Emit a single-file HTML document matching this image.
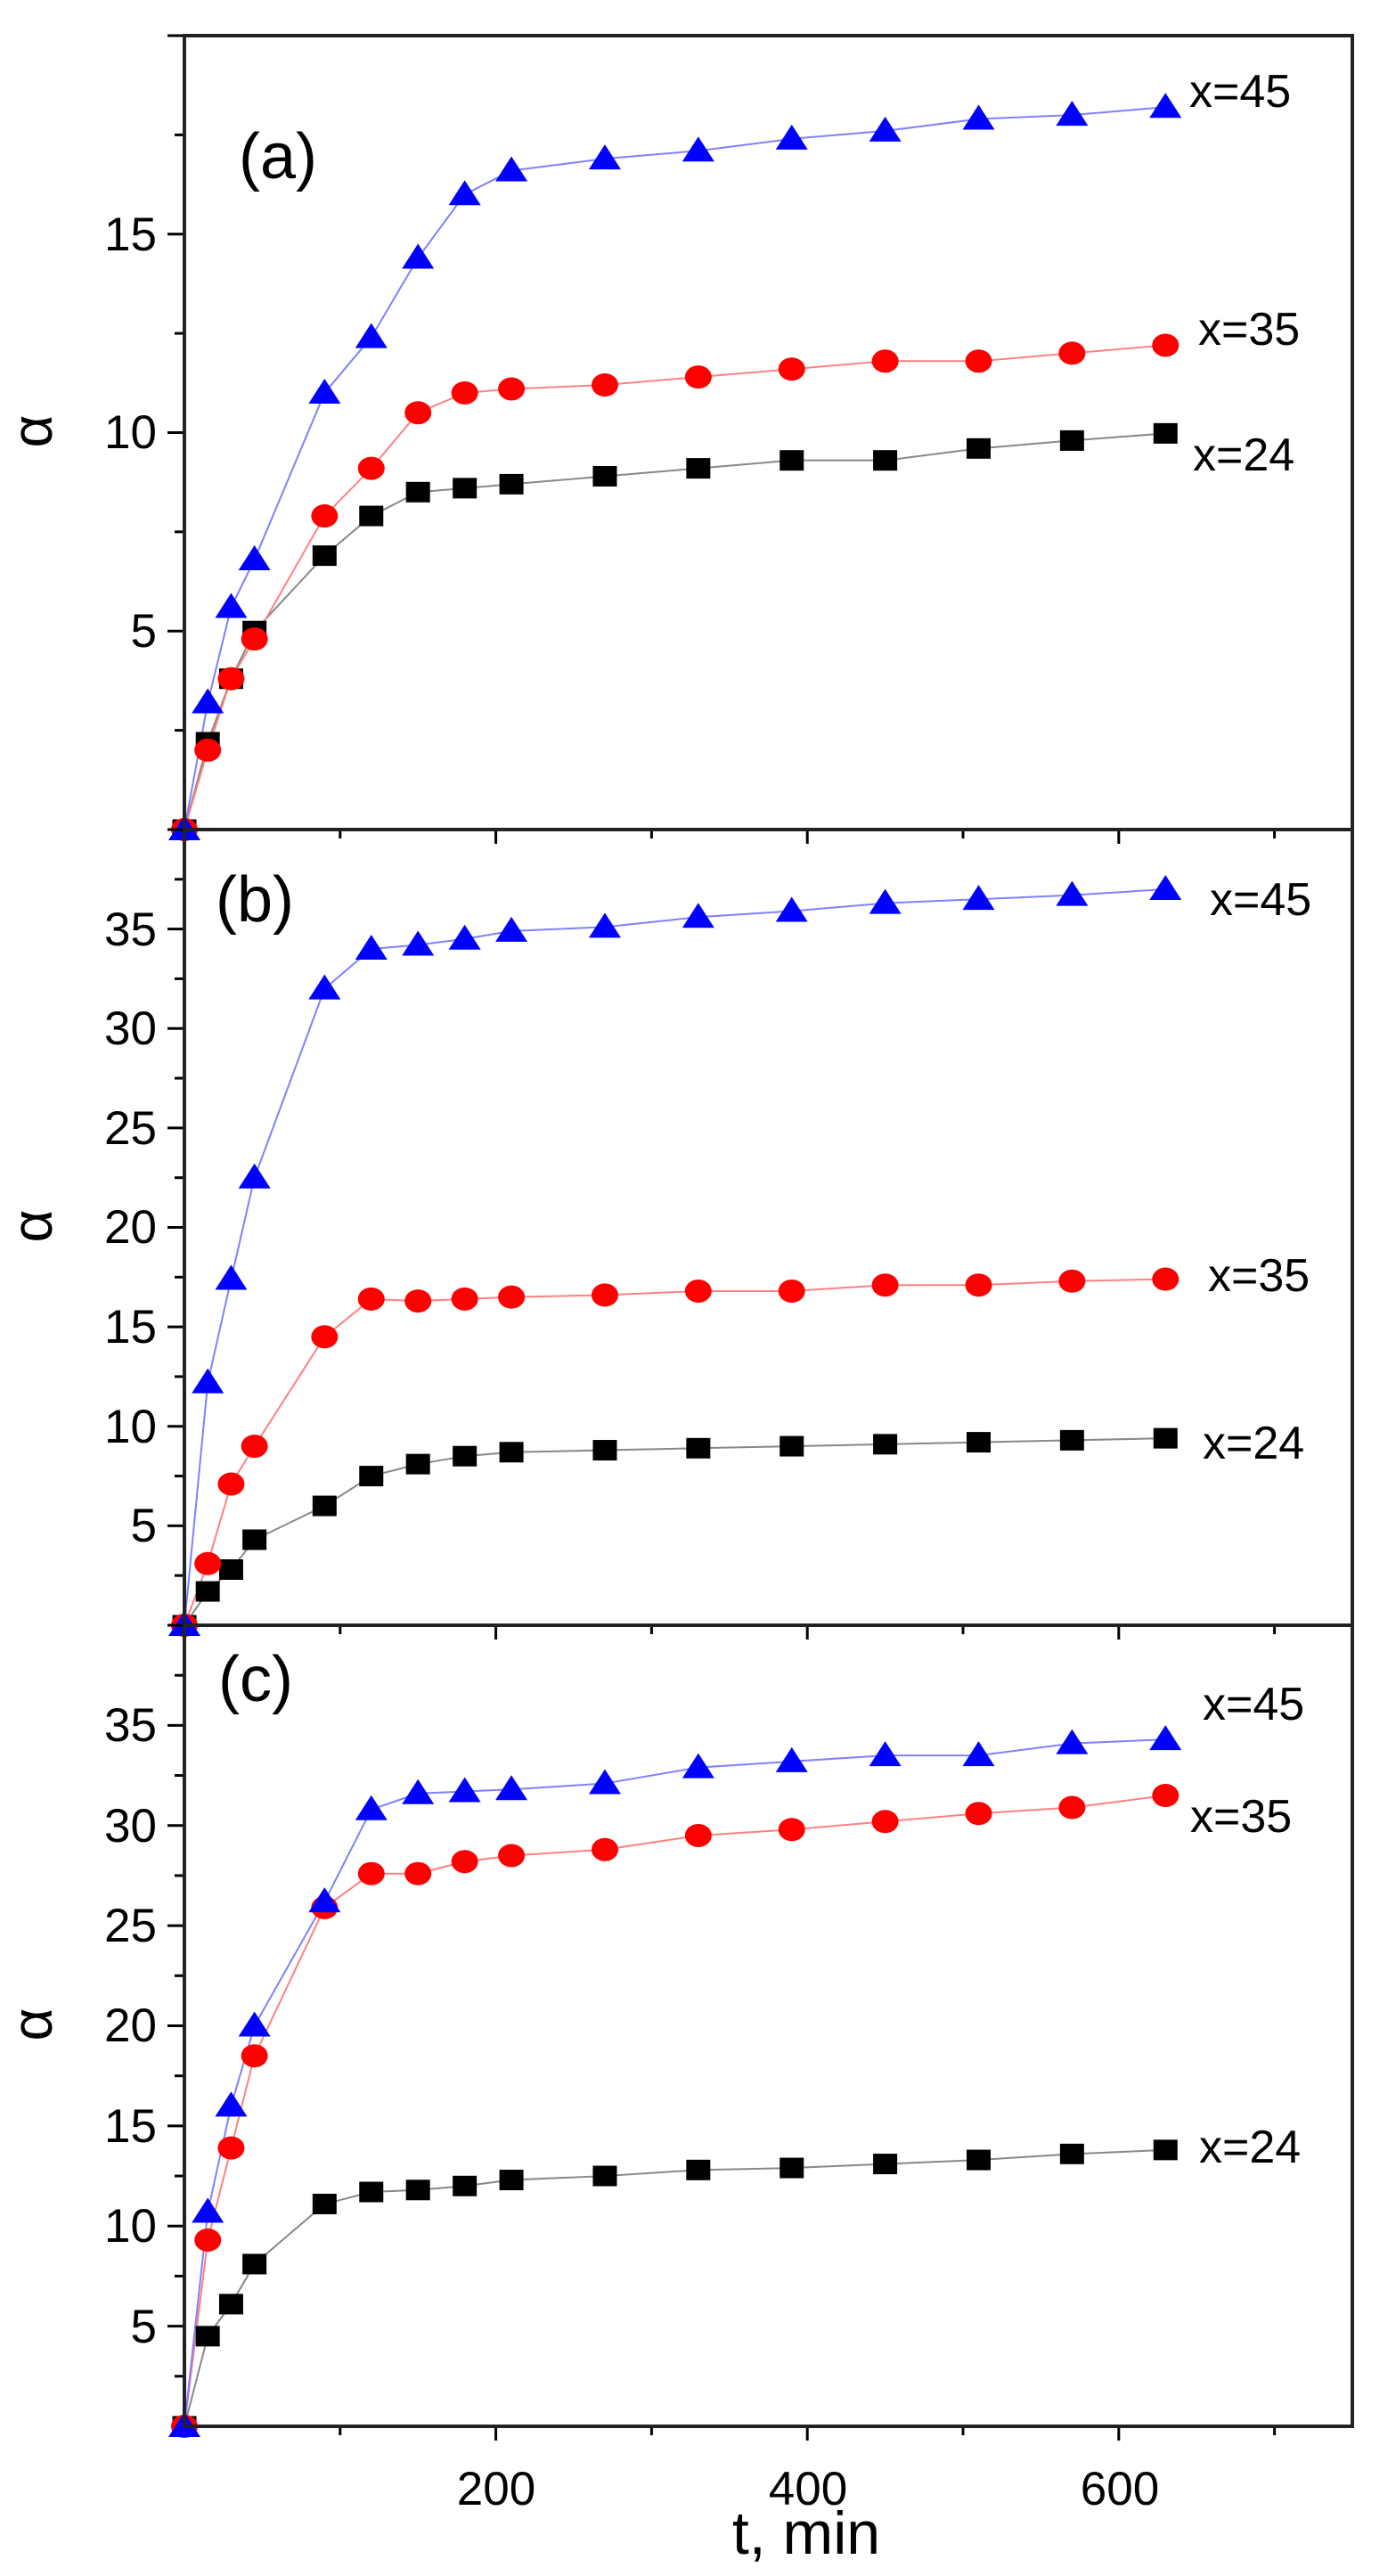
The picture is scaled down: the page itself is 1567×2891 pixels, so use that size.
<!DOCTYPE html>
<html><head><meta charset="utf-8"><style>
html,body{margin:0;padding:0;background:#fff;}
svg{display:block;}
text{font-family:"Liberation Sans",Arial,sans-serif;fill:#000;}
</style></head><body>
<svg id="s" width="1567" height="2891" viewBox="0 0 1567 2891" xmlns="http://www.w3.org/2000/svg">
<g id="g"></g>
<g font-size="53" text-anchor="end">
<text x="176" y="281">15</text><text x="176" y="503">10</text><text x="176" y="726">5</text>
<text x="176" y="1061">35</text><text x="176" y="1172">30</text><text x="176" y="1284">25</text><text x="176" y="1395">20</text><text x="176" y="1507">15</text><text x="176" y="1619">10</text><text x="176" y="1730">5</text>
<text x="176" y="1954">35</text><text x="176" y="2067">30</text><text x="176" y="2179">25</text><text x="176" y="2291">20</text><text x="176" y="2404">15</text><text x="176" y="2516">10</text><text x="176" y="2629">5</text>
</g>
<g font-size="53" text-anchor="middle">
<text x="557" y="2811">200</text><text x="907" y="2811">400</text><text x="1257" y="2811">600</text>
</g>
<text x="905" y="2866" font-size="68" text-anchor="middle">t, min</text>
<g font-size="64" text-anchor="middle">
<text transform="translate(58,484) rotate(-90)">α</text>
<text transform="translate(58,1376) rotate(-90)">α</text>
<text transform="translate(58,2272) rotate(-90)">α</text>
</g>
<g font-size="72">
<text x="268" y="200">(a)</text>
<text x="242" y="1034">(b)</text>
<text x="245" y="1909">(c)</text>
</g>
<g font-size="52">
<text x="1335" y="120">x=45</text><text x="1345" y="387">x=35</text><text x="1339" y="528">x=24</text>
<text x="1358" y="1027">x=45</text><text x="1356" y="1449">x=35</text><text x="1350" y="1637">x=24</text>
<text x="1350" y="1930">x=45</text><text x="1336" y="2056">x=35</text><text x="1346" y="2427">x=24</text>
</g>
</svg>
<script>
var NS="http://www.w3.org/2000/svg",g=document.getElementById("g");
function el(n,a){var e=document.createElementNS(NS,n);for(var k in a)e.setAttribute(k,a[k]);g.appendChild(e);return e;}
var X0=207,XR=1518,XS=(XR-X0)/750;
var ts=[0,15,30,45,90,120,150,180,210,270,330,390,450,510,570,630];
var P=[
 {t:40,b:931,m:20,d:[
  [0,2.2,3.8,5.0,6.9,7.9,8.5,8.6,8.7,8.9,9.1,9.3,9.3,9.6,9.8,9.98],
  [0,2.0,3.8,4.8,7.9,9.1,10.5,11.0,11.1,11.2,11.4,11.6,11.8,11.8,12.0,12.2],
  [0,3.2,5.6,6.8,11.0,12.4,14.4,16.0,16.6,16.9,17.1,17.4,17.6,17.9,18.0,18.2]]},
 {t:931,b:1824,m:40,d:[
  [0,1.7,2.8,4.3,6.0,7.5,8.1,8.5,8.7,8.8,8.9,9.0,9.1,9.2,9.3,9.4],
  [0,3.1,7.1,9.0,14.5,16.4,16.3,16.4,16.5,16.6,16.8,16.8,17.1,17.1,17.3,17.4],
  [0,12.2,17.4,22.5,32,34,34.2,34.5,34.9,35.1,35.6,35.9,36.3,36.5,36.7,37]]},
 {t:1824,b:2723,m:40,d:[
  [0,4.5,6.1,8.1,11.1,11.7,11.8,12.0,12.3,12.5,12.8,12.9,13.1,13.3,13.6,13.8],
  [0,9.3,13.9,18.5,25.9,27.6,27.6,28.2,28.5,28.8,29.5,29.8,30.2,30.6,30.9,31.5],
  [0,10.7,16.0,20.0,26.2,30.8,31.6,31.7,31.8,32.1,32.9,33.2,33.5,33.5,34.1,34.3]]}];
var lc=["#888","#ff8080","#8080ff"];
P.forEach(function(p){
 var ys=(p.b-p.t)/p.m;
 var step=2.5;
 for(var v=step;v<=p.m;v+=step){var y=p.b-v*ys;var maj=(Math.abs(v%5)<1e-6);
  el("line",{x1:X0-(maj?19:11),x2:X0,y1:y,y2:y,stroke:"#000","stroke-width":3});}
 for(var t=100;t<750;t+=100){var x=X0+t*XS;var maj=(t%200==0);
  el("line",{x1:x,x2:x,y1:p.b,y2:p.b+(maj?16:10),stroke:"#000","stroke-width":3});}
 for(var s=0;s<3;s++){
  var pts=ts.map(function(t,i){return (X0+t*XS)+","+(p.b-p.d[s][i]*ys);}).join(" ");
  el("polyline",{points:pts,fill:"none",stroke:lc[s],"stroke-width":2});}
 for(var s=0;s<3;s++){
  ts.forEach(function(t,i){var x=X0+t*XS,y=p.b-p.d[s][i]*ys;
   if(s==0)el("rect",{x:x-13.5,y:y-11.5,width:27,height:23,fill:"#000"});
   else if(s==1)el("ellipse",{cx:x,cy:y,rx:15,ry:13,fill:"#f00"});
   else el("polygon",{points:(x)+","+(y-16)+" "+(x-18)+","+(y+12)+" "+(x+18)+","+(y+12),fill:"#00f"});});}
});
el("rect",{x:X0,y:40,width:XR-X0,height:2723-40,fill:"none",stroke:"#222","stroke-width":4});
el("line",{x1:X0,x2:XR,y1:931,y2:931,stroke:"#222","stroke-width":4});
el("line",{x1:X0,x2:XR,y1:1824,y2:1824,stroke:"#222","stroke-width":4});
</script>
</body></html>
